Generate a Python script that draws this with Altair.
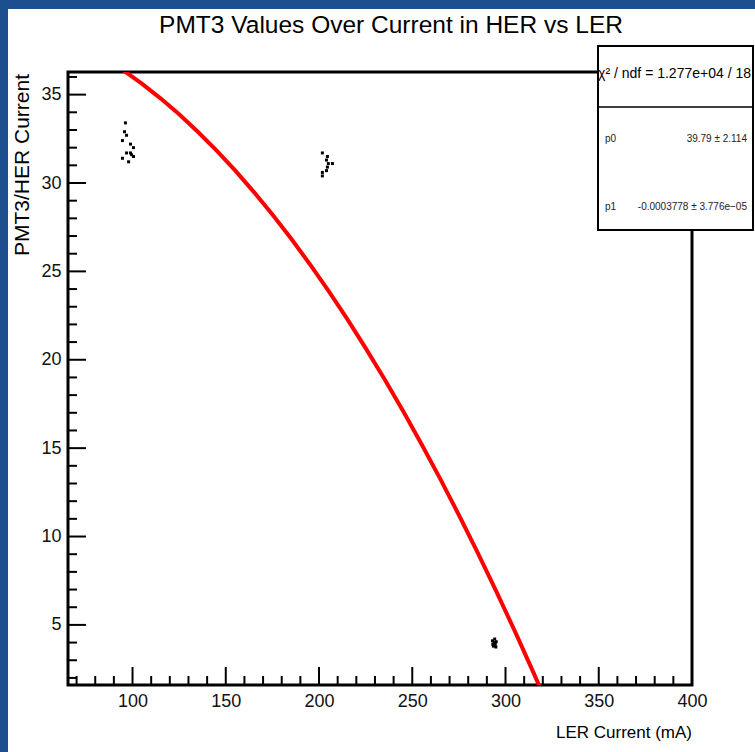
import altair as alt
import pandas as pd

# ---------------- data ----------------
ler_current = [96.2, 95.7, 96.8, 94.6, 98.9, 100.5, 96.8, 98.9, 100.5, 94.6, 97.9, 99.5,
               201.8, 204.5, 204.0, 205.0, 207.2, 204.5, 204.0, 201.8, 201.8,
               293.0, 293.8, 294.5, 293.5, 295.0, 294.2, 293.2, 294.8]
pmt3_ratio = [33.4, 32.9, 32.7, 32.4, 32.2, 32.0, 31.7, 31.7, 31.5, 31.4, 31.2, 31.6,
              31.7, 31.5, 31.3, 31.1, 31.1, 30.9, 30.7, 30.6, 30.4,
              4.10, 4.00, 3.90, 3.80, 4.05, 4.20, 3.90, 3.75]

fit_ler = [95, 105, 115, 125, 135, 145, 155, 165, 175, 185, 195, 205, 215, 225,
           235, 245, 255, 265, 275, 285, 295, 305, 315, 325]
fit_ratio = [36.38, 35.62, 34.79, 33.89, 32.90, 31.85, 30.71, 29.50, 28.22, 26.86,
             25.42, 23.91, 22.33, 20.66, 18.93, 17.11, 15.22, 13.26, 11.22, 9.10,
             6.91, 4.65, 2.30, -0.12]

x_major = [100, 150, 200, 250, 300, 350, 400]
x_minor = [70, 80, 90, 110, 120, 130, 140, 160, 170, 180, 190, 210, 220, 230, 240,
           260, 270, 280, 290, 310, 320, 330, 340, 360, 370, 380, 390]
y_major = [5, 10, 15, 20, 25, 30, 35]
y_minor = [2, 3, 4, 6, 7, 8, 9, 11, 12, 13, 14, 16, 17, 18, 19, 21, 22, 23, 24,
           26, 27, 28, 29, 31, 32, 33, 34, 36]

title_text = "PMT3 Values Over Current in HER vs LER"
x_title = "LER Current (mA)"
y_title = "PMT3/HER Current"
stat_chi = "χ² / ndf = 1.277e+04 / 18"
stat_names = ["p0", "p1"]
stat_values = ["39.79 ± 2.114", "-0.0003778 ± 3.776e−05"]

# ---------------- layout ----------------
W, H = 624, 613
PAD_L, PAD_T = 68, 72
FONT = "Liberation Sans, Arial, sans-serif"
BLUE = "#1d4e8d"

xs = alt.Scale(domain=[65.4, 400], nice=False, zero=False)
ys = alt.Scale(domain=[1.6, 36.28], nice=False, zero=False)
x_axis = alt.Axis(values=x_major, ticks=False, domain=False, grid=False, title=None, format="d",
                  labelFont=FONT, labelFontSize=18, labelColor="#111", labelPadding=7,
                  labelFlush=False)
y_axis = alt.Axis(values=y_major, ticks=False, domain=False, grid=False, title=None, format="d",
                  labelFont=FONT, labelFontSize=18, labelColor="#111", labelPadding=7,
                  labelFlush=False)

one = alt.Data(values=[{"k": 0}])

points_df = pd.DataFrame({"ler": ler_current, "ratio": pmt3_ratio})
points = alt.Chart(points_df).mark_square(size=9, color="black", opacity=1).encode(
    x=alt.X("ler:Q", scale=xs, axis=x_axis),
    y=alt.Y("ratio:Q", scale=ys, axis=y_axis),
)

# blue slide border
blue_left = alt.Chart(one).mark_rect(color=BLUE).encode(
    x=alt.value(-PAD_L), x2=alt.value(-PAD_L + 8), y=alt.value(-PAD_T), y2=alt.value(752 - PAD_T))
blue_top = alt.Chart(one).mark_rect(color=BLUE).encode(
    x=alt.value(-PAD_L), x2=alt.value(755 - PAD_L), y=alt.value(-PAD_T), y2=alt.value(-PAD_T + 9))

frame = alt.Chart(one).mark_rect(filled=False, stroke="black", strokeWidth=3).encode(
    x=alt.value(0), x2=alt.value(W), y=alt.value(0), y2=alt.value(H))

def xticks(vals, length):
    return alt.Chart(pd.DataFrame({"v": vals})).mark_rule(color="black", strokeWidth=2).encode(
        x=alt.X("v:Q", scale=xs, axis=x_axis), y=alt.value(H), y2=alt.value(H - length))

def yticks(vals, length):
    return alt.Chart(pd.DataFrame({"v": vals})).mark_rule(color="black", strokeWidth=2).encode(
        y=alt.Y("v:Q", scale=ys, axis=y_axis), x=alt.value(0), x2=alt.value(length))

fit_df = pd.DataFrame({"ler": fit_ler, "ratio": fit_ratio})
fit = alt.Chart(fit_df).mark_line(color="#ff0000", strokeWidth=4, clip=True).encode(
    x=alt.X("ler:Q", scale=xs, axis=x_axis), y=alt.Y("ratio:Q", scale=ys, axis=y_axis))

# stats box
bx0, bx1, by0, by1, bsep = 598 - PAD_L, 753 - PAD_L, 46 - PAD_T, 230 - PAD_T, 107 - PAD_T
box = alt.Chart(one).mark_rect(fill="white", stroke="black", strokeWidth=2).encode(
    x=alt.value(bx0), x2=alt.value(bx1), y=alt.value(by0), y2=alt.value(by1))
box_sep = alt.Chart(one).mark_rule(color="black", strokeWidth=1.5).encode(
    x=alt.value(bx0), x2=alt.value(bx1), y=alt.value(bsep))
chi_txt = alt.Chart(one).mark_text(text=stat_chi, font=FONT, fontSize=14, align="right",
                                   baseline="alphabetic", color="black").encode(
    x=alt.value(751 - PAD_L), y=alt.value(78 - PAD_T))

def stat_text(s, xpos, ypos, align):
    return alt.Chart(one).mark_text(text=s, font=FONT, fontSize=10, align=align,
                                    baseline="middle", color="#222").encode(
        x=alt.value(xpos - PAD_L), y=alt.value(ypos - PAD_T))

p0_name = stat_text(stat_names[0], 605, 139, "left")
p1_name = stat_text(stat_names[1], 605, 207, "left")
p0_val = stat_text(stat_values[0], 747, 139, "right")
p1_val = stat_text(stat_values[1], 747, 207, "right")

title = alt.Chart(one).mark_text(text=title_text, font=FONT, fontSize=24.5, align="center",
                                 baseline="alphabetic", color="black").encode(
    x=alt.value(391 - PAD_L), y=alt.value(33 - PAD_T))
xtitle = alt.Chart(one).mark_text(text=x_title, font=FONT, fontSize=17, align="right",
                                  baseline="alphabetic", color="black").encode(
    x=alt.value(W), y=alt.value(738 - PAD_T))
ytitle = alt.Chart(one).mark_text(text=y_title, font=FONT, fontSize=21, angle=270,
                                  align="right", baseline="middle", color="black").encode(
    x=alt.value(23 - PAD_L), y=alt.value(2))

chart = alt.layer(
    points, blue_left, blue_top, frame,
    xticks(x_major, 18), xticks(x_minor, 9), yticks(y_major, 18), yticks(y_minor, 9),
    fit, box, box_sep, chi_txt, p0_name, p1_name, p0_val, p1_val, title, xtitle, ytitle,
).properties(
    width=W, height=H,
    padding={"left": PAD_L, "top": PAD_T, "right": 755 - PAD_L - W, "bottom": 752 - PAD_T - H},
    autosize=alt.AutoSizeParams(type="none"),
).configure_view(stroke=None).configure(background="white")

chart.save("out.html", embed_options={"renderer": "svg", "actions": False})
